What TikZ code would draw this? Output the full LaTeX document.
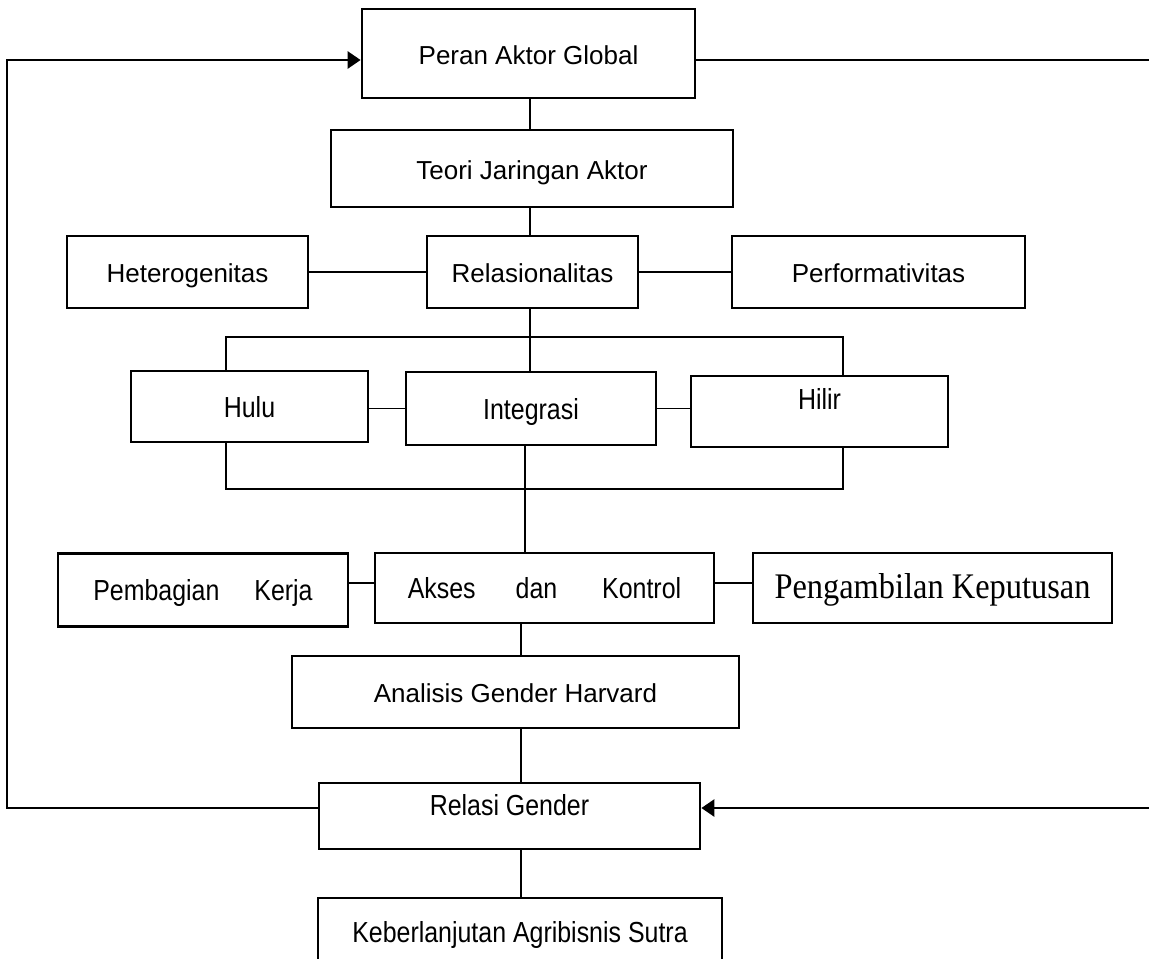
\documentclass[tikz,border=0pt]{standalone}
\usepackage{fontspec}
\setmainfont{Liberation Sans}
\newfontfamily\narrowsans[FakeStretch=0.86]{Liberation Sans}
\newfontfamily\narrowserif[FakeStretch=0.9]{Liberation Serif}
\usetikzlibrary{arrows.meta}

\begin{document}
\begin{tikzpicture}[x=0.02cm,y=-0.02cm,
  box/.style={draw,line width=1.6pt,inner sep=0pt,text height=0.52cm,text depth=0.1cm,font=\fontsize{14.8}{17}\selectfont},
  nbox/.style={box,font=\narrowsans\fontsize{16.5}{19}\selectfont},
  link/.style={line width=0.6pt},
  bracket/.style={line width=1.6pt},
  fb/.style={line width=1.5pt,-{Triangle[length=0.26cm,width=0.34cm]}}]
\useasboundingbox (0,0) rectangle (1149,958);
\clip (0,0) rectangle (1149,958);
\node[box,minimum width=6.66cm,minimum height=1.78cm] (peran) at (528.5,53.5) {Peran Aktor Global};
\node[box,minimum width=8.04cm,minimum height=1.54cm] (teori) at (532,168.5) {Teori Jaringan Aktor};
\node[box,minimum width=4.82cm,minimum height=1.44cm] (hetero) at (187.5,272) {Heterogenitas};
\node[box,minimum width=4.22cm,minimum height=1.44cm] (relas) at (532.5,272) {Relasionalitas};
\node[box,minimum width=5.86cm,minimum height=1.44cm] (perf) at (878.5,272) {Performativitas};
\node[nbox,minimum width=4.74cm,minimum height=1.42cm] (hulu) at (249.5,406.5) {Hulu};
\node[nbox,minimum width=5cm,minimum height=1.46cm] (integ) at (531,408.5) {Integrasi};
\node[nbox,minimum width=5.14cm,minimum height=1.42cm,text depth=0.62cm] (hilir) at (819.5,411.5) {Hilir};
\node[nbox,minimum width=5.8cm,minimum height=1.46cm] (pemb) at (203,590) {Pembagian\hspace{0.7cm}Kerja};
\node[nbox,minimum width=6.78cm,minimum height=1.4cm] (akses) at (544.5,588) {Akses\hspace{0.8cm}dan\hspace{0.9cm}Kontrol};
\node[box,minimum width=7.18cm,minimum height=1.4cm,font=\narrowserif\fontsize{20.5}{24}\selectfont] (ambil) at (932.5,588) {Pengambilan Keputusan};
\node[box,minimum width=8.94cm,minimum height=1.44cm] (analisis) at (515.5,692) {Analisis Gender Harvard};
\node[nbox,minimum width=7.62cm,minimum height=1.32cm,text depth=0.54cm] (relasi) at (509.5,816) {Relasi Gender};
\node[nbox,minimum width=8.08cm,minimum height=1.36cm] (keber) at (520,932) {Keberlanjutan Agribisnis Sutra};
\coordinate (sa) at (530,0);
\coordinate (sb) at (525,0);
\coordinate (sc) at (521,0);
\coordinate (hl) at (0,583);
\coordinate (ftl) at (226,337);
\coordinate (ftr) at (843,337);
\coordinate (fbl) at (226,489);
\coordinate (fbr) at (843,489);
\coordinate (lpL) at (7,60);
\coordinate (lpR) at (1170,60);
\coordinate (lpB) at (0,808);
\draw[link] (peran.south -| sa) -- (teori.north -| sa);
\draw[link] (teori.south -| sa) -- (relas.north -| sa);
\draw[link] (relas.south -| sa) -- (integ.north -| sa);
\draw[link] (integ.south -| sb) -- (akses.north -| sb);
\draw[link] (akses.south -| sc) -- (analisis.north -| sc);
\draw[link] (analisis.south -| sc) -- (relasi.north -| sc);
\draw[link] (relasi.south -| sc) -- (keber.north -| sc);
\draw[link] (hetero) -- (relas);
\draw[link] (relas) -- (perf);
\draw[link] (hulu.east |- integ.west) -- (integ.west);
\draw[link] (integ.east) -- (hilir.west |- integ.east);
\draw[link] (pemb.east |- hl) -- (akses.west |- hl);
\draw[link] (akses.east |- hl) -- (ambil.west |- hl);
\draw[bracket] (hulu.north -| ftl) -- (ftl) -- (ftr) -- (hilir.north -| ftr);
\draw[bracket] (hulu.south -| fbl) -- (fbl) -- (fbr) -- (hilir.south -| fbr);
\draw[fb] (relasi.west |- lpB) -| (lpL) -- (peran.west |- lpL);
\draw[fb] (peran.east |- lpR) -- (lpR) |- (relasi.east |- lpB);
\end{tikzpicture}
\end{document}
